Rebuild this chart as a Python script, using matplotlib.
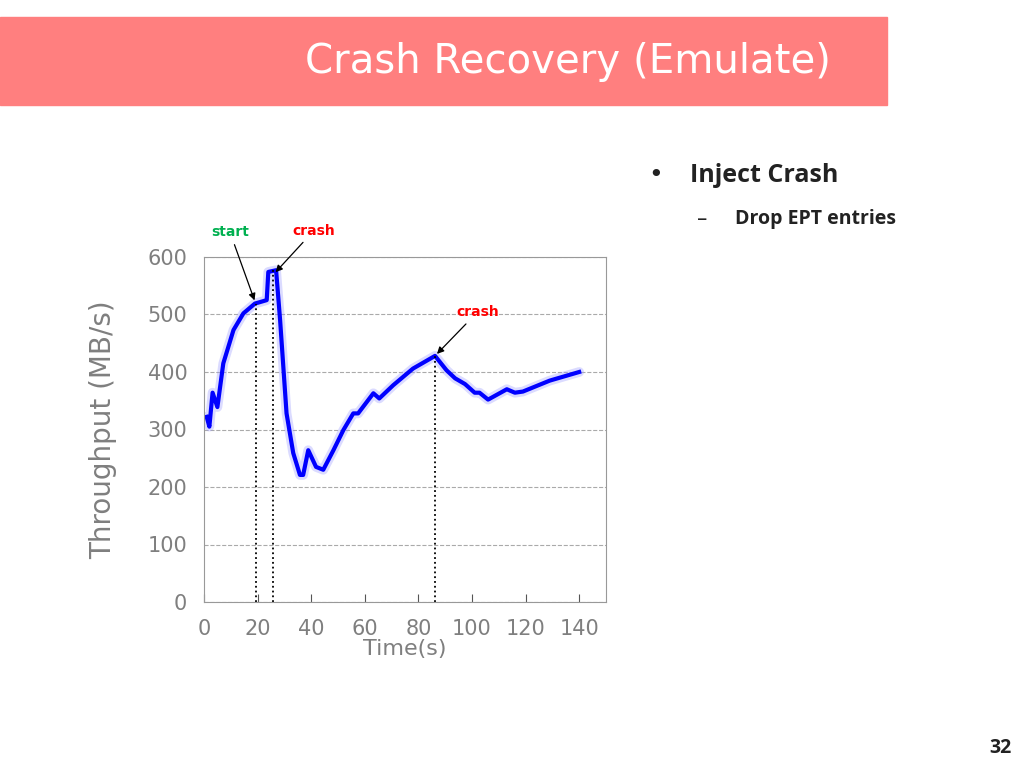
import matplotlib.pyplot as plt
from matplotlib.patches import Rectangle

# throughput curve
time_s = [1, 2, 3.2, 5, 7.2, 11, 14.7, 19, 23.4, 24, 26.9, 28.4, 30.8, 33.3, 35.8, 37,
          38.9, 41.8, 44.5, 46.4, 48.3, 52, 55.7, 57.5, 63.2, 65.4, 70.6, 78, 86.2,
          90.5, 93.7, 97.4, 101, 102.8, 106, 113, 116, 119, 129, 140]
throughput = [322, 305, 364, 339, 415, 473, 502, 519, 525, 574, 577, 490, 328, 259, 221, 221,
              264, 235, 230, 247, 264, 299, 328, 328, 363, 354, 377, 406, 428,
              403, 389, 379, 364, 364, 352, 370, 364, 366, 385, 400]
marker_x = [19.4, 25.9, 86.2]
marker_y = [519, 577, 428]
x_ticks = [0, 20, 40, 60, 80, 100, 120, 140]
y_ticks = [0, 100, 200, 300, 400, 500, 600]

GREY = "#7f7f7f"

fig = plt.figure(figsize=(10.24, 7.68), dpi=100)
fig.patch.set_facecolor("white")

# title banner
fig.patches.append(Rectangle((0, 1 - 105 / 768), 887 / 1024, 88 / 768,
                             transform=fig.transFigure, color="#ff7f7f", zorder=0))
fig.text(568 / 1024, 1 - 62 / 768, "Crash Recovery (Emulate)", color="white",
         fontsize=29, ha="center", va="center")

# bullets
fig.text(648 / 1024, 1 - 175 / 768, "•", fontsize=18, va="center", color="#222222")
fig.text(690 / 1024, 1 - 175 / 768, "Inject Crash", fontsize=18, fontweight="bold",
         va="center", color="#222222", family="Open Sans")
fig.text(702 / 1024, 1 - 219 / 768, "–", fontsize=15, va="center", ha="center", color="#222222")
fig.text(735 / 1024, 1 - 219 / 768, "Drop EPT entries", fontsize=14, fontweight="bold",
         va="center", color="#222222", family="Open Sans")
fig.text(1000 / 1024, 1 - 748 / 768, "32", fontsize=14, fontweight="bold",
         ha="center", va="center", color="#222222", family="Open Sans")

ax = fig.add_axes([204 / 1024, 1 - 602 / 768, 402 / 1024, 345 / 768])
ax.plot(time_s, throughput, color="#9999ff", linewidth=7, alpha=0.35, solid_capstyle="round")
ax.plot(time_s, throughput, color="#0000ff", linewidth=3, solid_joinstyle="round")
for mx, my in zip(marker_x, marker_y):
    ax.plot([mx, mx], [0, my], color="black", linestyle=":", linewidth=1.3)

ax.set_xlim(0, 150)
ax.set_ylim(0, 600)
ax.set_xticks(x_ticks)
ax.set_yticks(y_ticks)
ax.tick_params(direction="in", length=6, colors="#555555", labelcolor=GREY,
               labelsize=15, pad=12)
ax.tick_params(axis="y", length=0)
ax.grid(axis="y", linestyle="--", color="#aaaaaa", linewidth=0.8)
for spine in ax.spines.values():
    spine.set_color("#999999")
ax.set_xlabel("Time(s)", color=GREY, fontsize=16, labelpad=0)
ax.set_ylabel("Throughput (MB/s)", color=GREY, fontsize=20, labelpad=22)

arrow = dict(arrowstyle="-|>", color="black", linewidth=0.9)
ax.annotate("start", xy=(19.2, 520), xytext=(9.7, 643), color="#00b050",
            fontsize=10, fontweight="bold", ha="center", va="center",
            arrowprops=arrow, annotation_clip=False)
ax.annotate("crash", xy=(26, 570), xytext=(41, 646), color="#ff0000",
            fontsize=10, fontweight="bold", ha="center", va="center",
            arrowprops=arrow, annotation_clip=False)
ax.annotate("crash", xy=(86.2, 428), xytext=(102, 504), color="#ff0000",
            fontsize=10, fontweight="bold", ha="center", va="center",
            arrowprops=arrow, annotation_clip=False)

plt.savefig("out.png", dpi=100)
